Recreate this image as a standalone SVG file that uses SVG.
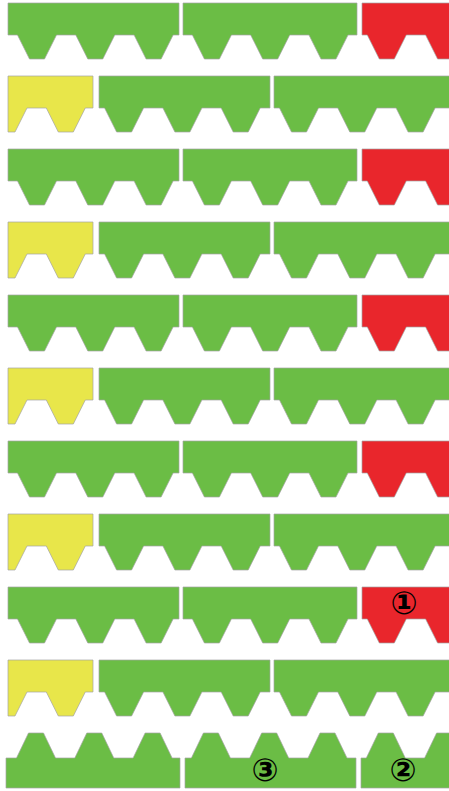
<svg xmlns="http://www.w3.org/2000/svg" xmlns:xlink="http://www.w3.org/1999/xlink" width="449" height="791" viewBox="0 0 449 791">
<style>
.g{fill:#6bbd45}
.r{fill:#e9262c}
.y{fill:#e8e64a}
use{stroke:#a3a3a3;stroke-width:0.7;stroke-linejoin:miter}
.num{font-family:"DejaVu Sans",sans-serif;font-weight:bold;font-size:32px;fill:#000}
</style>
<defs>
<polygon id="oddA" points="8,0 179,0 179,32 173.1,32 161.1,56 146.1,56 134.1,32 114.8,32 102.8,56 87.8,56 75.8,32 56.5,32 44.5,56 29.5,56 17.5,32 8,32"/>
<polygon id="oddB" points="183,0 357,0 357,32 348,32 336,56 321,56 309,32 289.7,32 277.7,56 262.7,56 250.7,32 231.4,32 219.4,56 204.4,56 192.4,32 183,32"/>
<polygon id="oddC" points="362,0 452,0 452,56 437.6,56 425.6,32 406.3,32 394.3,56 379.3,56 367.3,32 362,32"/>
<polygon id="evenA" points="8,0 93,0 93,32 85.3,32 73.3,56 58.3,56 46.3,32 27,32 15,56 8,56"/>
<polygon id="evenB" points="99,0 270,0 270,32 260.2,32 248.2,56 233.2,56 221.2,32 201.9,32 189.9,56 174.9,56 162.9,32 143.6,32 131.6,56 116.6,56 104.6,32 99,32"/>
<polygon id="evenC" points="274,0 452,0 452,32 435.1,32 423.1,56 408.1,56 396.1,32 376.8,32 364.8,56 349.8,56 337.8,32 318.5,32 306.5,56 291.5,56 279.5,32 274,32"/>
</defs>

<g id="row1" transform="translate(0,3)"><use href="#oddA" class="g"/><use href="#oddB" class="g"/><use href="#oddC" class="r"/></g>
<g id="row2" transform="translate(0,76)"><use href="#evenA" class="y"/><use href="#evenB" class="g"/><use href="#evenC" class="g"/></g>
<g id="row3" transform="translate(0,149)"><use href="#oddA" class="g"/><use href="#oddB" class="g"/><use href="#oddC" class="r"/></g>
<g id="row4" transform="translate(0,222)"><use href="#evenA" class="y"/><use href="#evenB" class="g"/><use href="#evenC" class="g"/></g>
<g id="row5" transform="translate(0,295)"><use href="#oddA" class="g"/><use href="#oddB" class="g"/><use href="#oddC" class="r"/></g>
<g id="row6" transform="translate(0,368)"><use href="#evenA" class="y"/><use href="#evenB" class="g"/><use href="#evenC" class="g"/></g>
<g id="row7" transform="translate(0,441)"><use href="#oddA" class="g"/><use href="#oddB" class="g"/><use href="#oddC" class="r"/></g>
<g id="row8" transform="translate(0,514)"><use href="#evenA" class="y"/><use href="#evenB" class="g"/><use href="#evenC" class="g"/></g>
<g id="row9" transform="translate(0,587)"><use href="#oddA" class="g"/><use href="#oddB" class="g"/><use href="#oddC" class="r"/></g>
<g id="row10" transform="translate(0,660)"><use href="#evenA" class="y"/><use href="#evenB" class="g"/><use href="#evenC" class="g"/></g>
<g id="row11" transform="translate(0,733)" class="g" stroke="#a3a3a3" stroke-width="0.7">
<polygon points="6,55 6,25 16.5,25 28.5,0 43.5,0 55.5,25 74.8,25 86.8,0 101.8,0 113.8,25 133.1,25 145.1,0 160.1,0 172.1,25 180,25 180,55"/>
<polygon points="185,55 185,25 191.4,25 203.4,0 218.4,0 230.4,25 249.7,25 261.7,0 276.7,0 288.7,25 308,25 320,0 335,0 347,25 356,25 356,55"/>
<polygon points="361,55 361,25 366.3,25 378.3,0 393.3,0 405.3,25 424.6,25 436.6,0 452,0 452,55"/>
</g>

<g id="labels">
<text class="num" x="404" y="603" text-anchor="middle" dominant-baseline="central">①</text>
<text class="num" x="403" y="770" text-anchor="middle" dominant-baseline="central">②</text>
<text class="num" x="265" y="770" text-anchor="middle" dominant-baseline="central">③</text>
</g>
</svg>
